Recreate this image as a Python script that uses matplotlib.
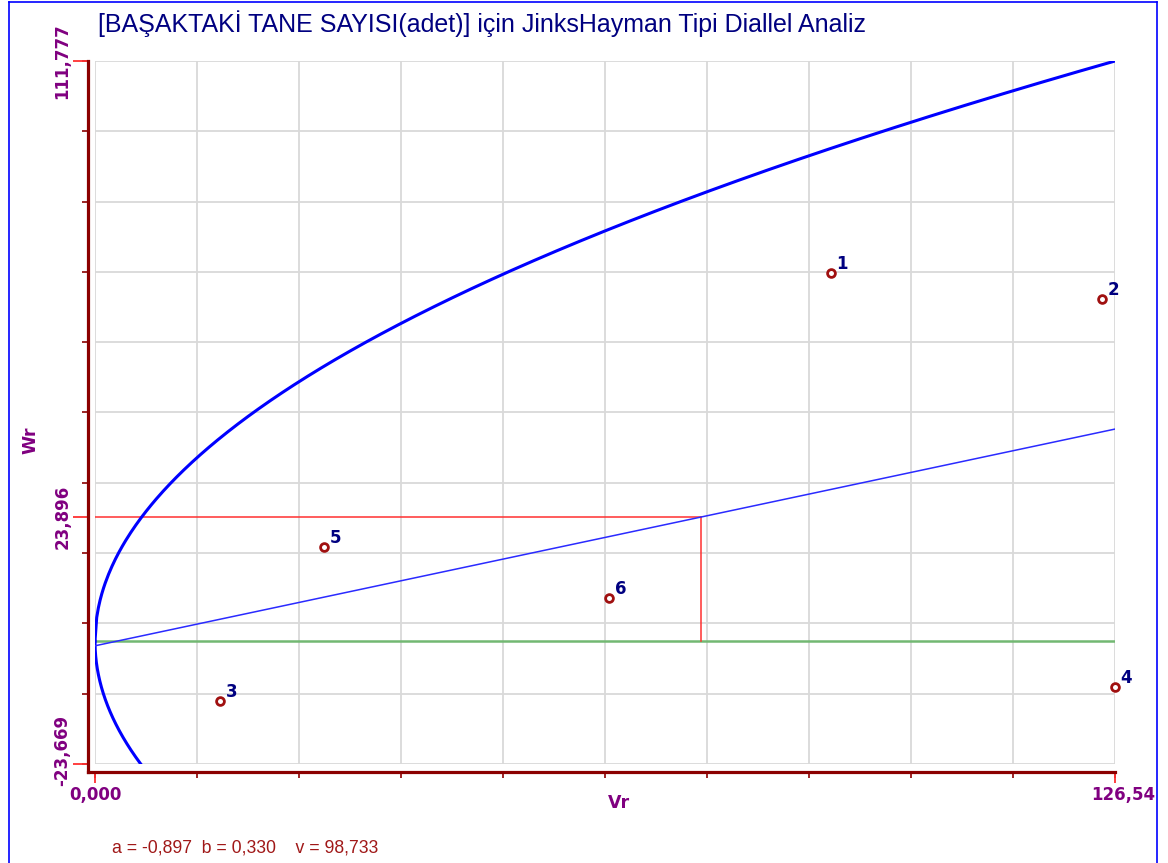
import numpy as np
import matplotlib
matplotlib.use("Agg")
import matplotlib.pyplot as plt
from matplotlib.lines import Line2D
from matplotlib.transforms import ScaledTranslation

# parents (Vr, Wr)
parents = ['1', '2', '3', '4', '5', '6']
vr = [91.27, 124.93, 15.51, 126.54, 28.41, 63.80]
wr = [70.99, 65.87, -11.59, -8.89, 18.14, 8.37]

# regression Wr = a + b*Vr, parabola Wr^2 = v*Vr
a = -0.897
b = 0.330
v = 98.733
w_ref = 23.896

x_min, x_max = 0.0, 126.54
y_min, y_max = -23.669, 111.777
xlabels = ['0,000', '126,54']
ylabels = ['-23,669', '23,896', '111,777']

W, H = 1168, 863
fig = plt.figure(figsize=(W / 100, H / 100), dpi=100)
ax = fig.add_axes([95 / W, 1 - 764 / H, 1020 / W, 703 / H])
ax.set_xlim(x_min, x_max)
ax.set_ylim(y_min, y_max)

purple = '#800080'
navy = '#000080'
darkred = '#8b0000'

# grid
xg = np.linspace(x_min, x_max, 11)
yg = np.linspace(y_min, y_max, 11)
ax.set_xticks(xg)
ax.set_yticks(yg)
ax.set_xticklabels([])
ax.set_yticklabels([])
ax.grid(True, which='major', color='#d9d9d9', lw=1.3)
ax.set_axisbelow(True)

ax.xaxis.remove_overlapping_locs = False
ax.yaxis.remove_overlapping_locs = False
ax.set_xticks([x_min, x_max], minor=True)
ax.set_xticklabels(xlabels, minor=True)
ax.set_yticks([y_min, w_ref, y_max], minor=True)
ax.set_yticklabels(ylabels, minor=True)

ax.tick_params(which='major', length=4, width=1.2, color=darkred, direction='out')
ax.tick_params(which='minor', width=1.3, color='#ff3030', direction='out',
               labelcolor=purple, labelsize=12)
ax.tick_params(axis='y', which='minor', length=11, pad=1, labelrotation=90)
ax.tick_params(axis='x', which='minor', length=8, pad=2)

# axis lines
for s in ['top', 'right']:
    ax.spines[s].set_visible(False)
ax.spines['left'].set_position(('outward', 5))
ax.spines['bottom'].set_position(('outward', 6))
dy = 8 * (y_max - y_min) / 703
dx = 7 * (x_max - x_min) / 1020
ax.spines['left'].set_bounds(y_min - dy, y_max)
ax.spines['bottom'].set_bounds(x_min - dx, x_max)
for s in ['left', 'bottom']:
    ax.spines[s].set_color(darkred)
    ax.spines[s].set_linewidth(2.3)

# parabola
vv = np.linspace(0, x_max, 600)
ax.plot(vv, np.sqrt(v * vv), color='#0000ff', lw=2.2, zorder=3)
vl = np.linspace(0, y_min ** 2 / v, 200)
ax.plot(vl, -np.sqrt(v * vl), color='#0000ff', lw=2.2, zorder=3)

# regression line
ax.plot([x_min, x_max], [a + b * x_min, a + b * x_max], color='#2a2aff', lw=1.1, zorder=3)
# Wr = 0 line
ax.plot([x_min, x_max], [0, 0], color='#72b872', lw=1.8, zorder=2)
# reference lines
v_ref = (w_ref - a) / b
ax.plot([x_min, v_ref], [w_ref, w_ref], color='#ff3030', lw=1.1, zorder=2)
ax.plot([v_ref, v_ref], [w_ref, 0], color='#ff3030', lw=1.1, zorder=2)

# parents
ax.plot(vr, wr, 'o', mfc='white', mec='#a01010', ms=5.6, mew=2.0, zorder=5, clip_on=False)
for p, x, y in zip(parents, vr, wr):
    ax.annotate(p, (x, y), xytext=(4, 0), textcoords='offset points', ha='left', va='bottom',
                color=navy, fontsize=12, fontweight='bold', annotation_clip=False)

fig.text(619 / W, 1 - 803 / H, 'Vr', color=purple, fontsize=12.5, fontweight='bold',
         ha='center', va='center')
fig.text(30 / W, 1 - 440 / H, 'Wr', color=purple, fontsize=12.5, fontweight='bold',
         ha='center', va='center', rotation=90)

fig.text(98 / W, 1 - 24 / H, '[BAŞAKTAKİ TANE SAYISI(adet)] için JinksHayman Tipi Diallel Analiz',
         color=navy, fontsize=18, family='Liberation Sans', ha='left', va='center')
fig.text(112 / W, 1 - 848 / H,
         'a = ' + f'{a:.3f}'.replace('.', ',') + '  b = ' + f'{b:.3f}'.replace('.', ',')
         + '    v = ' + f'{v:.3f}'.replace('.', ','),
         color='#a01818', fontsize=12.7, family='Liberation Sans', ha='left', va='center')

# outer blue frame
fig.add_artist(Line2D([9 / W, 9 / W], [0, 1 - 2 / H], color='#0000ff', lw=1.2))
fig.add_artist(Line2D([9 / W, 1157 / W], [1 - 2 / H, 1 - 2 / H], color='#0000ff', lw=1.2))
fig.add_artist(Line2D([1157 / W, 1157 / W], [0, 1 - 2 / H], color='#0000ff', lw=1.2))

# tick objects are settled after a draw, then make the labels bold / nudge them
fig.canvas.draw()
for lab in ax.get_xticklabels(minor=True) + ax.get_yticklabels(minor=True):
    lab.set_fontweight('bold')
    lab.set_va('center') if lab in ax.get_yticklabels(minor=True) else None
ylabs = ax.get_yticklabels(minor=True)
ylabs[0].set_transform(ylabs[0].get_transform() + ScaledTranslation(0, 14 / 100, fig.dpi_scale_trans))
xlabs = ax.get_xticklabels(minor=True)
xlabs[1].set_transform(xlabs[1].get_transform() + ScaledTranslation(8 / 100, 0, fig.dpi_scale_trans))

fig.savefig('out.png', dpi=100)
